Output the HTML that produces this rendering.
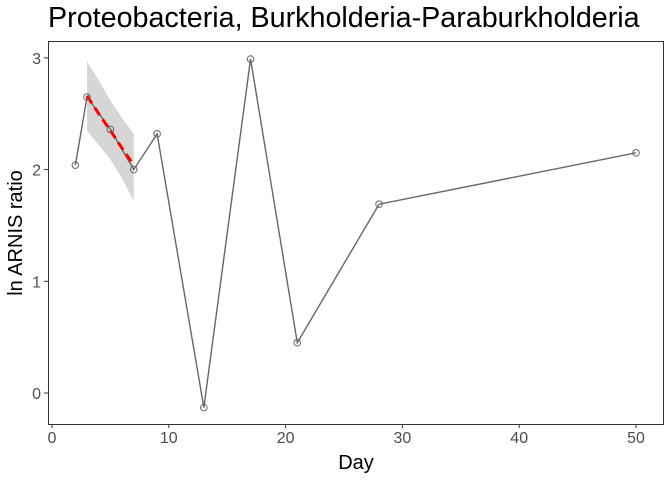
<!DOCTYPE html>
<html><head><meta charset="utf-8"><style>
body{margin:0;background:#fff;}
svg text{font-family:"Liberation Sans",sans-serif;}
</style></head><body>
<svg id="chart" width="672" height="480"></svg>
<script>
const days=[2,3,5,7,9,13,17,21,28,50];
const ratios=[2.04,2.65,2.36,2.0,2.32,-0.13,2.99,0.45,1.69,2.15];
const fitDays=[3,4,5,6,7];
const fitValues=[2.66,2.50,2.35,2.19,2.04];
const fitUpper=[2.97,2.80,2.62,2.46,2.32];
const fitLower=[2.35,2.22,2.09,1.92,1.72];
const xTicks=[0,10,20,30,40,50];
const yTicks=[0,1,2,3];
const NS="http://www.w3.org/2000/svg";
const svg=document.getElementById('chart');
const X=v=>52+v*11.68;
const Y=v=>393-v*111.7;
function mk(t,a,p){const e=document.createElementNS(NS,t);for(const k in a)e.setAttribute(k,a[k]);(p||svg).appendChild(e);return e;}
let e;
e=mk('rect',{x:48.5,y:41.5,width:615,height:383,fill:'#fff',stroke:'#333','stroke-width':1});


let d='M'+fitDays.map((x,i)=>X(x)+','+Y(fitUpper[i])).join('L');
for(let i=fitDays.length-1;i>=0;i--)d+='L'+X(fitDays[i])+','+Y(fitLower[i]);
e=mk('path',{d:d+'Z',fill:'#999','fill-opacity':0.4});


e=mk('polyline',{points:days.map((x,i)=>X(x)+','+Y(ratios[i])).join(' '),fill:'none',stroke:'#666','stroke-width':1.4});


e=mk('polyline',{points:fitDays.map((x,i)=>X(x)+','+Y(fitValues[i])).join(' '),fill:'none',stroke:'#f00','stroke-width':3,'stroke-dasharray':'9,5'});


days.forEach((x,i)=>{
  const c=mk('circle',{cx:X(x),cy:Y(ratios[i]),r:3.3,fill:'none',stroke:'#666','stroke-width':1});
  
  
});
xTicks.forEach(t=>{
  mk('line',{x1:X(t),x2:X(t),y1:424,y2:428,stroke:'#333'});
  const tx=mk('text',{x:X(t),y:443,'text-anchor':'middle','font-size':16,fill:'#4d4d4d'});tx.textContent=t;
  
  
});
yTicks.forEach(t=>{
  mk('line',{x1:44,x2:48,y1:Y(t),y2:Y(t),stroke:'#333'});
  const tx=mk('text',{x:41,y:Y(t)+6,'text-anchor':'end','font-size':16,fill:'#4d4d4d'});tx.textContent=t;
  
  
});
e=mk('text',{x:356,y:469,'text-anchor':'middle','font-size':20,fill:'#000'});e.textContent='Day';


e=mk('text',{x:0,y:0,'text-anchor':'middle','font-size':20,fill:'#000',transform:'translate(22,233) rotate(-90)'});e.textContent='ln ARNIS ratio';


e=mk('text',{x:48,y:27,'font-size':28.7,fill:'#000'});e.textContent='Proteobacteria, Burkholderia-Paraburkholderia';


</script>
</body></html>
